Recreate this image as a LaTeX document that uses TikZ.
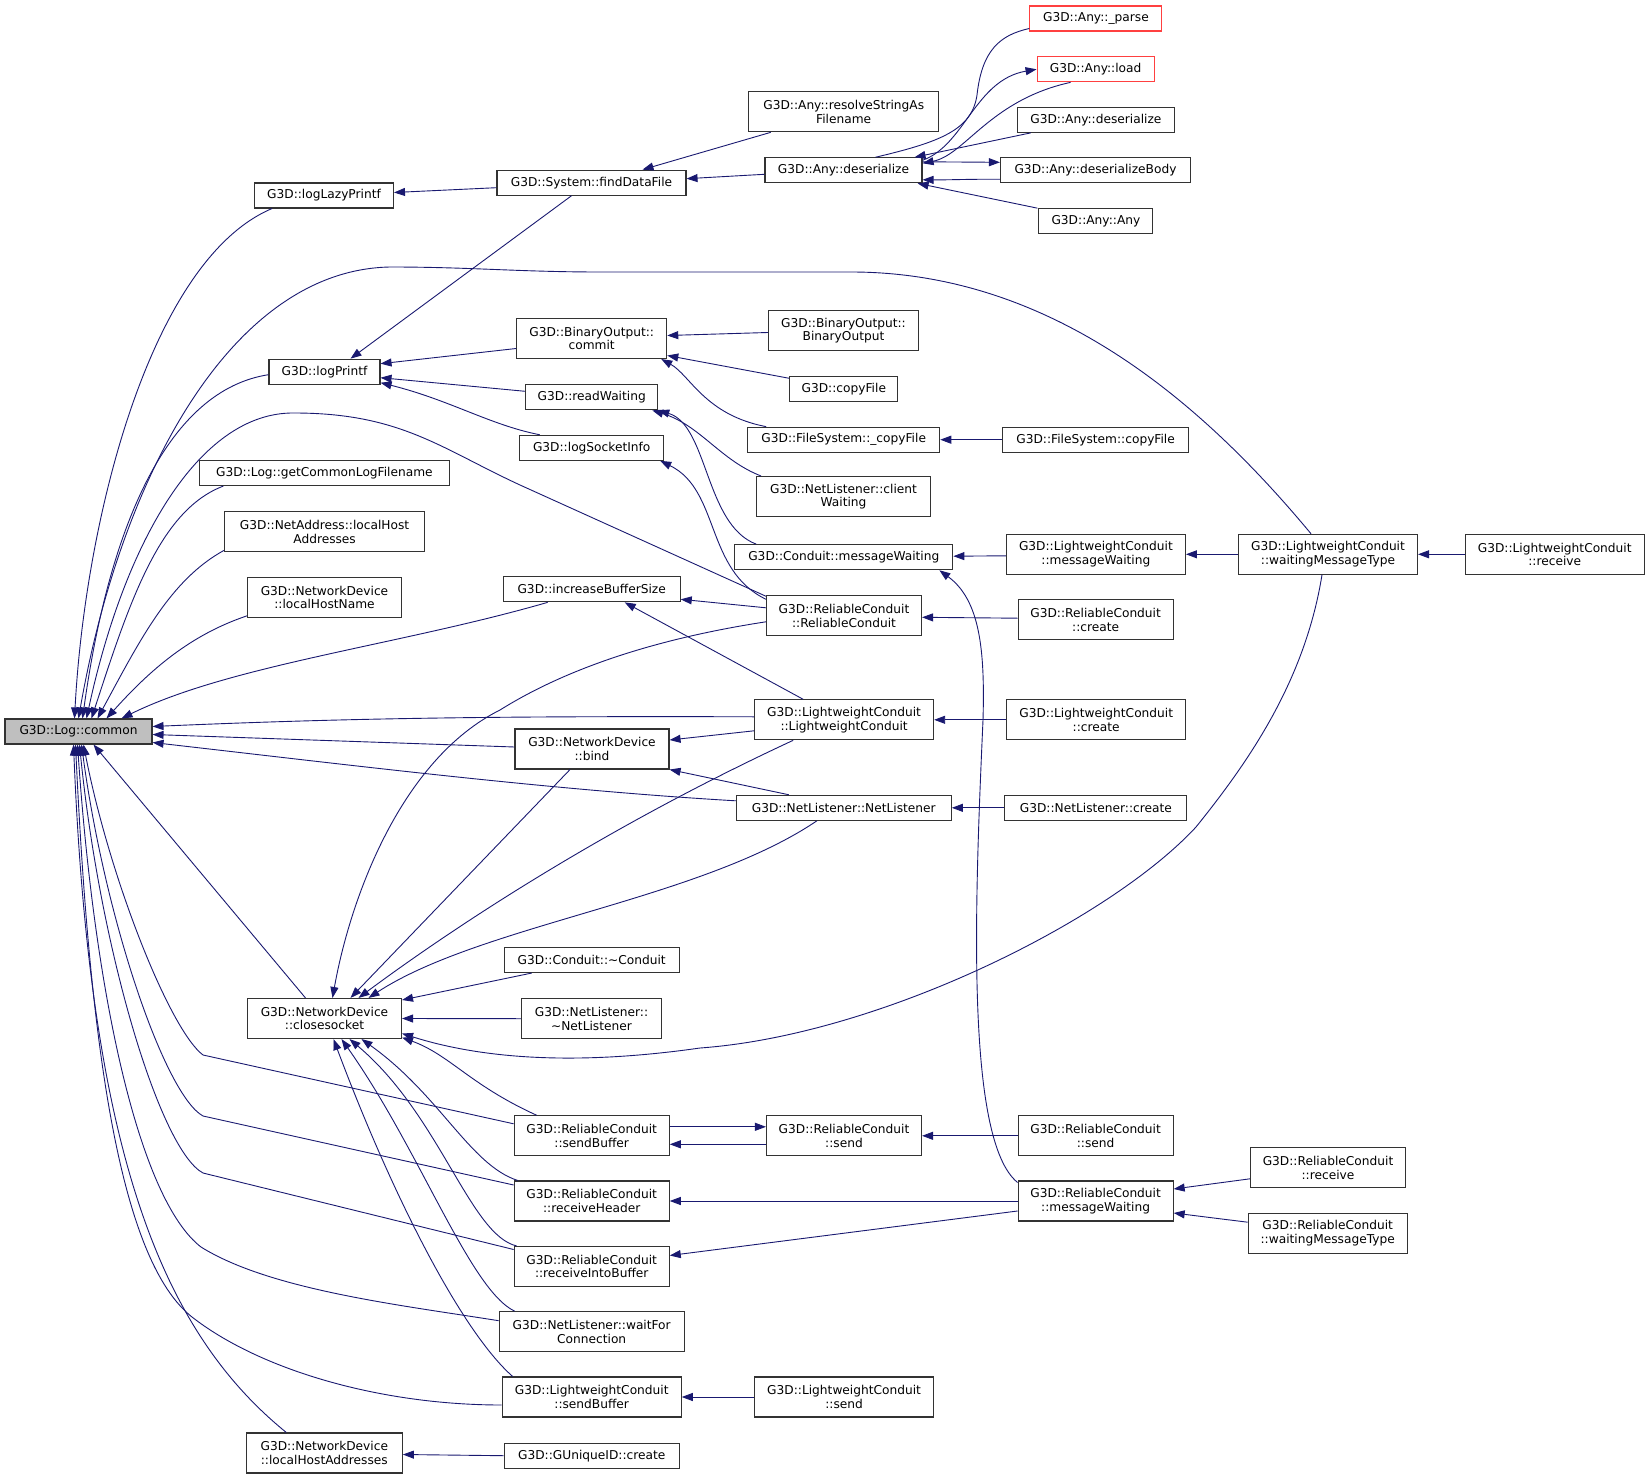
\documentclass[tikz,border=0pt]{standalone}
\usepackage{fontspec}
\setmainfont{DejaVu Sans}
\usetikzlibrary{arrows.meta}
\definecolor{edgeblue}{RGB}{25,25,112}
\definecolor{truncred}{RGB}{255,64,64}
\newcommand{\fnfont}{\fontsize{12.2}{13.7}\selectfont}

\begin{document}
\begin{tikzpicture}[x=1pt, y=-1pt,
    fn/.style={draw=black!80, line width=1.1pt, fill=white, align=center, font=\fnfont, inner sep=0pt, minimum height=25pt},
    fn2/.style={fn, minimum height=40pt},
    trunc/.style={fn, draw=truncred},
    call/.style={draw=edgeblue, line width=0.9pt, {Triangle[length=11pt,width=8pt]}-},
    callee/.style={draw=edgeblue, line width=0.9pt, -{Triangle[length=11pt,width=8pt]}},
    link/.style={draw=edgeblue, line width=0.9pt}]
\useasboundingbox (0,0) rectangle (1649,1479);

\node[fn, fill=black!25, minimum width=147pt] (common) at (78.5,731.5) {G3D::Log::common};
\node[fn, minimum width=139pt]  (lazy printf)   at (324,195.5)    {G3D::logLazyPrintf};
\node[fn, minimum width=189pt]  (find file)     at (591.5,182.7)  {G3D::System::findDataFile};
\node[fn2, minimum width=190pt] (resolve)       at (843.7,111.8)  {G3D::Any::resolveStringAs\\Filename};
\node[fn, minimum width=157pt]  (deser)         at (843.5,170.3)  {G3D::Any::deserialize};
\node[trunc, minimum width=132pt] (parse)       at (1095.9,18.5)  {G3D::Any::\_parse};
\node[trunc, minimum width=117pt] (load)        at (1095.6,69.3)  {G3D::Any::load};
\node[fn, minimum width=157pt]  (deser 2)       at (1095.9,119.8) {G3D::Any::deserialize};
\node[fn, minimum width=190pt]  (deser body)    at (1095.5,170.3) {G3D::Any::deserializeBody};
\node[fn, minimum width=114pt]  (any any)       at (1095.9,221.2) {G3D::Any::Any};
\node[fn, minimum width=111pt]  (log printf)    at (324.5,371.7)  {G3D::logPrintf};
\node[fn2, minimum width=150pt] (commit)        at (591.7,338.5)  {G3D::BinaryOutput::\\commit};
\node[fn2, minimum width=150pt] (bin out)       at (843.5,330.5)  {G3D::BinaryOutput::\\BinaryOutput};
\node[fn, minimum width=108pt]  (copy file)     at (843.8,389.3)  {G3D::copyFile};
\node[fn, minimum width=192pt]  (fs copy)       at (843.7,439.7)  {G3D::FileSystem::\_copyFile};
\node[fn, minimum width=186pt]  (fs copy 2)     at (1095.6,439.7) {G3D::FileSystem::copyFile};
\node[fn, minimum width=132pt]  (read wait)     at (591.7,397.3)  {G3D::readWaiting};
\node[fn, minimum width=144pt]  (sock info)     at (591.7,447.8)  {G3D::logSocketInfo};
\node[fn2, minimum width=174pt] (client wait)   at (843.5,496.5)  {G3D::NetListener::client\\Waiting};
\node[fn, minimum width=250pt]  (log file)      at (324.4,473)    {G3D::Log::getCommonLogFilename};
\node[fn2, minimum width=200pt] (na host)       at (324.6,531.8)  {G3D::NetAddress::localHost\\Addresses};
\node[fn2, minimum width=154pt] (host name)     at (324.5,597.3)  {G3D::NetworkDevice\\::localHostName};
\node[fn, minimum width=218pt]  (c wait)        at (843.8,557.2)  {G3D::Conduit::messageWaiting};
\node[fn2, minimum width=179pt] (lc wait)       at (1095.9,554.3) {G3D::LightweightConduit\\::messageWaiting};
\node[fn2, minimum width=179pt] (lc type)       at (1328,554.3)   {G3D::LightweightConduit\\::waitingMessageType};
\node[fn2, minimum width=179pt] (lc recv)       at (1554.7,554.3) {G3D::LightweightConduit\\::receive};
\node[fn, minimum width=177pt]  (inc buf)       at (591.7,589.3)  {G3D::increaseBufferSize};
\node[fn2, minimum width=155pt] (rc ctor)       at (844,615.8)    {G3D::ReliableConduit\\::ReliableConduit};
\node[fn2, minimum width=155pt] (rc create)     at (1095.6,619.7) {G3D::ReliableConduit\\::create};
\node[fn2, minimum width=179pt] (lc ctor)       at (844.1,719.8)  {G3D::LightweightConduit\\::LightweightConduit};
\node[fn2, minimum width=179pt] (lc create)     at (1096.2,719.8) {G3D::LightweightConduit\\::create};
\node[fn2, minimum width=154pt] (bind)          at (592,749)      {G3D::NetworkDevice\\::bind};
\node[fn, minimum width=215pt]  (nl ctor)       at (843.8,807.8)  {G3D::NetListener::NetListener};
\node[fn, minimum width=182pt]  (nl create)     at (1095.9,807.8) {G3D::NetListener::create};
\node[fn, minimum width=175pt]  (c dtor)        at (591.7,960)    {G3D::Conduit::\textasciitilde Conduit};
\node[fn2, minimum width=140pt] (nl dtor)       at (591.5,1018.7) {G3D::NetListener::\\\textasciitilde NetListener};
\node[fn2, minimum width=154pt] (close)         at (324.5,1018.5) {G3D::NetworkDevice\\::closesocket};
\node[fn2, minimum width=155pt] (rc sbuf)       at (591.7,1135.8) {G3D::ReliableConduit\\::sendBuffer};
\node[fn2, minimum width=155pt] (rc send)       at (844,1135.8)   {G3D::ReliableConduit\\::send};
\node[fn2, minimum width=155pt] (rc send 2)     at (1095.6,1135.8) {G3D::ReliableConduit\\::send};
\node[fn2, minimum width=155pt] (rc head)       at (591.7,1201)   {G3D::ReliableConduit\\::receiveHeader};
\node[fn2, minimum width=155pt] (rc wait)       at (1095.6,1201)  {G3D::ReliableConduit\\::messageWaiting};
\node[fn2, minimum width=155pt] (rc recv)       at (1328,1167.8)  {G3D::ReliableConduit\\::receive};
\node[fn2, minimum width=159pt] (rc type)       at (1327.7,1233.2) {G3D::ReliableConduit\\::waitingMessageType};
\node[fn2, minimum width=155pt] (rc into)       at (591.7,1266.5) {G3D::ReliableConduit\\::receiveIntoBuffer};
\node[fn2, minimum width=185pt] (nl wait)       at (591.7,1331.7) {G3D::NetListener::waitFor\\Connection};
\node[fn2, minimum width=179pt] (lc sbuf)       at (591.7,1397)   {G3D::LightweightConduit\\::sendBuffer};
\node[fn2, minimum width=179pt] (lc send)       at (844.1,1397)   {G3D::LightweightConduit\\::send};
\node[fn2, minimum width=156pt] (nd host)       at (324.3,1453)   {G3D::NetworkDevice\\::localHostAddresses};
\node[fn, minimum width=175pt]  (guid)          at (591.7,1455.7) {G3D::GUniqueID::create};

\draw[call] ([xshift=-4pt]common.north) .. controls (85,520) and (150,260) .. ([xshift=-52pt]lazy printf.south);
\draw[call] (common.north) .. controls (120,480) and (230,270) .. (390,267) .. controls (470,267) and (520,272) .. (600,272) -- (851,272) .. controls (1050,272) and (1200,400) .. ([xshift=-17pt]lc type.north);
\draw[call] ([xshift=4pt]common.north) .. controls (110,520) and (170,390) .. ([yshift=-3pt]log printf.west);
\draw[call] ([xshift=8pt]common.north) .. controls (125,540) and (200,412) .. (294,413) .. controls (400,413) and (440,448) .. (520,485) -- ([yshift=-1pt]rc ctor.north west);
\draw[call] ([xshift=13pt]common.north) .. controls (130,600) and (160,510) .. ([xshift=-101pt]log file.south);
\draw[call] ([xshift=19pt]common.north) .. controls (140,640) and (170,580) .. ([yshift=2pt]na host.south west);
\draw[call] ([xshift=28pt]common.north) .. controls (150,670) and (190,635) .. ([yshift=2pt]host name.south west);
\draw[call] ([xshift=43pt]common.north) .. controls (230,665) and (400,645) .. ([xshift=-44pt]inc buf.south);
\draw[call] ([yshift=5pt]common.east) .. controls (350,718) and (500,716) .. ([yshift=3pt]lc ctor.west);
\draw[call] ([yshift=-3pt]common.east) -- ([yshift=2pt]bind.west);
\draw[call] ([yshift=-11pt]common.east) .. controls (350,765) and (550,790) .. ([yshift=7pt]nl ctor.west);
\draw[call] ([xshift=15pt]common.south) -- ([xshift=-19pt]close.north);
\draw[call] ([xshift=5pt]common.south) .. controls (110,880) and (170,1030) .. (203,1055) -- ([yshift=12pt]rc sbuf.west);
\draw[call] ([xshift=3pt]common.south) .. controls (105,920) and (165,1095) .. (203,1116) -- ([yshift=16pt]rc head.west);
\draw[call] ([xshift=1pt]common.south) .. controls (100,950) and (160,1150) .. (203,1173) -- ([yshift=17pt]rc into.west);
\draw[call] ([xshift=-1pt]common.south) .. controls (95,1000) and (140,1200) .. (201,1247) .. controls (270,1290) and (400,1305) .. ([yshift=11pt]nl wait.west);
\draw[call] ([xshift=-3pt]common.south) .. controls (90,1050) and (120,1260) .. (192,1317) .. controls (260,1370) and (380,1405) .. ([yshift=-8pt]lc sbuf.west);
\draw[call] ([xshift=-5pt]common.south) .. controls (90,1150) and (160,1330) .. ([xshift=-38pt]nd host.north);

\draw[call] ([yshift=3pt]lazy printf.east) -- ([yshift=-5pt]find file.west);
\draw[call] ([xshift=26pt]log printf.north) -- ([xshift=-20pt]find file.south);
\draw[call] ([xshift=51pt]find file.north) -- ([xshift=-73pt]resolve.south);
\draw[call] ([yshift=4pt]find file.east) -- ([yshift=-4pt]deser.west);
\draw[call] ([yshift=8pt]log printf.east) -- ([yshift=-10pt]commit.west);
\draw[call] ([yshift=-6pt]log printf.east) -- ([yshift=6pt]read wait.west);
\draw[call] ([yshift=-11pt]log printf.east) .. controls (450,400) and (490,425) .. ([xshift=-52pt]sock info.north);

\draw[link] ([xshift=32pt]deser.north) .. controls (940,142) and (972,130) .. (977,95) .. controls (982,50) and (1000,35) .. ([yshift=-10pt]parse.west);
\draw[call] ([yshift=7pt]deser.east) .. controls (965,155) and (990,100) .. ([xshift=-25pt]load.south);
\draw[callee] ([yshift=10pt]deser.east) .. controls (965,145) and (975,80) .. (load.west);
\draw[call] ([xshift=-8pt]deser.north east) -- ([xshift=14pt]deser 2.south west);
\draw[callee] ([yshift=8.5pt]deser.east) -- ([yshift=8pt]deser body.west);
\draw[call] ([yshift=-9.5pt]deser.east) .. controls (950,180) and (970,179) .. ([yshift=-9pt]deser body.west);
\draw[call] ([xshift=-5pt]deser.south east) -- ([xshift=-1pt]any any.north west);

\draw[call] ([yshift=3pt]commit.east) -- ([yshift=-2pt]bin out.west);
\draw[call] ([yshift=-17pt]commit.east) -- ([yshift=11pt]copy file.west);
\draw[call] ([xshift=-6pt]commit.south east) .. controls (690,375) and (705,415) .. ([xshift=19pt]fs copy.north west);
\draw[call] (fs copy.east) -- (fs copy 2.west);
\draw[call] ([xshift=-6pt]read wait.south east) .. controls (700,425) and (720,460) .. ([xshift=5pt]client wait.north west);
\draw[call] (read wait.south east) .. controls (708,425) and (705,525) .. ([xshift=22pt]c wait.north west);
\draw[call] ([xshift=-4pt]sock info.south east) .. controls (720,490) and (705,570) .. ([yshift=-4pt]rc ctor.north west);
\draw[call] ([yshift=-10pt]inc buf.east) -- ([yshift=8pt]rc ctor.west);
\draw[call] ([xshift=8pt]close.north) .. controls (350,900) and (400,760) .. (500,710) .. controls (580,660) and (680,635) .. ([yshift=-6pt]rc ctor.west);
\draw[call] ([yshift=-1.5pt]rc ctor.east) -- ([yshift=1.5pt]rc create.west);
\draw[call] ([yshift=1pt]c wait.east) -- ([yshift=-1.5pt]lc wait.west);
\draw[call] (lc wait.east) -- (lc type.west);
\draw[call] (lc type.east) -- (lc recv.west);
\draw[call] ([xshift=-14pt]c wait.south east) .. controls (980,600) and (985,650) .. (983,720) .. controls (975,900) and (965,1140) .. ([yshift=-2pt]rc wait.north west);
\draw[call] ([yshift=-15pt]close.east) .. controls (470,1055) and (560,1068) .. (700,1048) .. controls (880,1035) and (1110,920) .. (1196,827) .. controls (1250,760) and (1305,680) .. ([xshift=-6pt]lc type.south);
\draw[call] ([xshift=33pt]inc buf.south) -- ([xshift=-41pt]lc ctor.north);
\draw[call] ([yshift=9pt]bind.east) -- ([yshift=-11pt]lc ctor.west);
\draw[call] ([xshift=34pt]close.north) .. controls (450,930) and (600,830) .. ([xshift=-51pt]lc ctor.south);
\draw[call] ([xshift=26pt]close.north) -- ([xshift=-22pt]bind.south);
\draw[call] ([xshift=44pt]close.north) .. controls (480,925) and (700,900) .. ([xshift=-27pt]nl ctor.south);
\draw[call] (bind.south east) -- ([xshift=-55pt]nl ctor.north);
\draw[call] (nl ctor.east) -- (nl create.west);
\draw[call] (lc ctor.east) -- (lc create.west);

\draw[call] ([yshift=18.5pt]close.east) -- ([xshift=-60pt]c dtor.south);
\draw[call] (close.east) -- (nl dtor.west);
\draw[call] ([yshift=-19pt]close.east) .. controls (450,1055) and (470,1085) .. ([xshift=-55pt]rc sbuf.north);
\draw[call] ([xshift=37pt]close.south) .. controls (440,1095) and (470,1165) .. ([xshift=4pt]rc head.north west);
\draw[call] ([xshift=25pt]close.south) .. controls (440,1115) and (470,1235) .. ([xshift=3pt]rc into.north west);
\draw[call] ([xshift=17pt]close.south) .. controls (420,1150) and (470,1290) .. ([xshift=16pt]nl wait.north west);
\draw[call] ([xshift=9pt]close.south) .. controls (390,1190) and (460,1330) .. ([xshift=11pt]lc sbuf.north west);

\draw[callee] ([yshift=9pt]rc sbuf.east) -- ([yshift=9pt]rc send.west);
\draw[call] ([yshift=-8.5pt]rc sbuf.east) -- ([yshift=-8.5pt]rc send.west);
\draw[call] (rc send.east) -- (rc send 2.west);
\draw[call] (rc head.east) -- (rc wait.west);
\draw[call] ([yshift=11pt]rc into.east) -- ([yshift=-10pt]rc wait.west);
\draw[call] ([yshift=12pt]rc wait.east) -- ([yshift=-11pt]rc recv.west);
\draw[call] ([yshift=-12pt]rc wait.east) -- ([yshift=11pt]rc type.west);
\draw[call] (lc sbuf.east) -- (lc send.west);
\draw[call] ([yshift=-1.5pt]nd host.east) -- (guid.west);
\end{tikzpicture}
\end{document}
